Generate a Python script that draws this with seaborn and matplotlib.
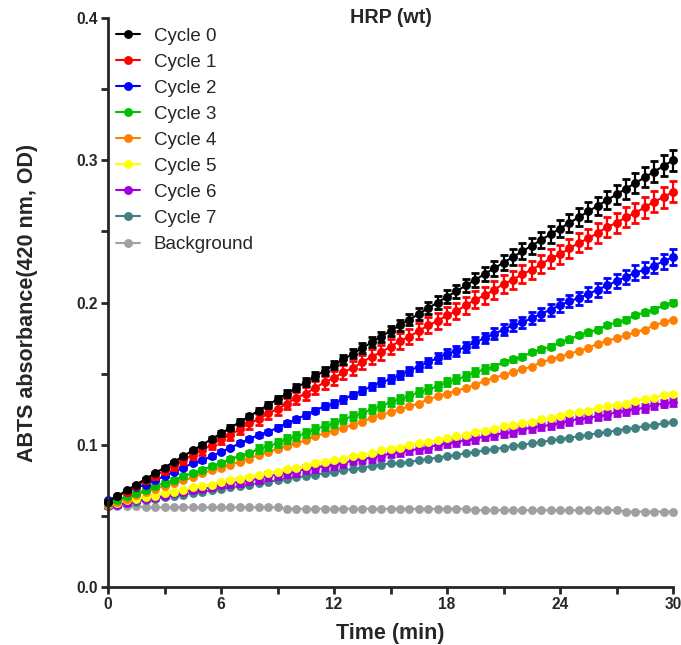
import matplotlib
matplotlib.use("Agg")
import matplotlib.pyplot as plt
import seaborn as sns
import numpy as np
import pandas as pd
from matplotlib.ticker import MultipleLocator

# ---------------- data ----------------
time_min = [i * 0.5 for i in range(61)]

series_names = ["Cycle 0", "Cycle 1", "Cycle 2", "Cycle 3", "Cycle 4",
                "Cycle 5", "Cycle 6", "Cycle 7", "Background"]
series_colors = ["#000000", "#FF0000", "#0000FF", "#00C000", "#FF8000",
                 "#FFFF00", "#A000E0", "#408080", "#A0A0A4"]

cycle0 = [0.060, 0.064, 0.068, 0.072, 0.076, 0.080, 0.084, 0.088, 0.092, 0.096,
          0.100, 0.104, 0.108, 0.112, 0.116, 0.120, 0.124, 0.128, 0.132, 0.136,
          0.140, 0.144, 0.148, 0.152, 0.156, 0.160, 0.164, 0.168, 0.172, 0.176,
          0.180, 0.184, 0.188, 0.192, 0.196, 0.200, 0.204, 0.208, 0.212, 0.216,
          0.220, 0.224, 0.228, 0.232, 0.236, 0.240, 0.244, 0.248, 0.252, 0.256,
          0.260, 0.264, 0.268, 0.272, 0.276, 0.280, 0.284, 0.288, 0.292, 0.296,
          0.300]
cycle1 = [0.060, 0.064, 0.067, 0.071, 0.075, 0.078, 0.082, 0.085, 0.089, 0.093,
          0.096, 0.100, 0.104, 0.107, 0.111, 0.115, 0.118, 0.122, 0.125, 0.129,
          0.133, 0.136, 0.140, 0.144, 0.147, 0.151, 0.154, 0.158, 0.162, 0.165,
          0.169, 0.173, 0.176, 0.180, 0.184, 0.187, 0.191, 0.194, 0.198, 0.202,
          0.205, 0.209, 0.213, 0.216, 0.220, 0.223, 0.227, 0.231, 0.234, 0.238,
          0.242, 0.245, 0.249, 0.253, 0.256, 0.260, 0.263, 0.267, 0.271, 0.274,
          0.278]
cycle2 = [0.061, 0.064, 0.067, 0.070, 0.072, 0.075, 0.078, 0.081, 0.084, 0.087,
          0.089, 0.092, 0.095, 0.098, 0.101, 0.104, 0.107, 0.109, 0.112, 0.115,
          0.118, 0.121, 0.124, 0.127, 0.129, 0.132, 0.135, 0.138, 0.141, 0.144,
          0.146, 0.149, 0.152, 0.155, 0.158, 0.161, 0.164, 0.166, 0.169, 0.172,
          0.175, 0.178, 0.181, 0.184, 0.186, 0.189, 0.192, 0.195, 0.198, 0.201,
          0.203, 0.206, 0.209, 0.212, 0.215, 0.218, 0.221, 0.223, 0.226, 0.229,
          0.232]
cycle3 = [0.059, 0.061, 0.064, 0.066, 0.068, 0.071, 0.073, 0.075, 0.078, 0.080,
          0.082, 0.085, 0.087, 0.090, 0.092, 0.094, 0.097, 0.099, 0.101, 0.104,
          0.106, 0.108, 0.111, 0.113, 0.115, 0.118, 0.120, 0.122, 0.125, 0.127,
          0.130, 0.132, 0.134, 0.137, 0.139, 0.141, 0.144, 0.146, 0.148, 0.151,
          0.153, 0.155, 0.158, 0.160, 0.162, 0.165, 0.167, 0.169, 0.172, 0.174,
          0.177, 0.179, 0.181, 0.184, 0.186, 0.188, 0.191, 0.193, 0.195, 0.198,
          0.200]
cycle4 = [0.058, 0.060, 0.062, 0.065, 0.067, 0.069, 0.071, 0.073, 0.075, 0.077,
          0.080, 0.082, 0.084, 0.086, 0.088, 0.090, 0.093, 0.095, 0.097, 0.099,
          0.101, 0.103, 0.106, 0.108, 0.110, 0.112, 0.114, 0.116, 0.119, 0.121,
          0.123, 0.125, 0.127, 0.129, 0.132, 0.134, 0.136, 0.138, 0.140, 0.142,
          0.145, 0.147, 0.149, 0.151, 0.153, 0.155, 0.158, 0.160, 0.162, 0.164,
          0.166, 0.168, 0.171, 0.173, 0.175, 0.177, 0.179, 0.181, 0.184, 0.186,
          0.188]
cycle5 = [0.058, 0.059, 0.061, 0.062, 0.063, 0.064, 0.066, 0.067, 0.068, 0.070,
          0.071, 0.072, 0.074, 0.075, 0.076, 0.077, 0.079, 0.080, 0.081, 0.083,
          0.084, 0.085, 0.087, 0.088, 0.089, 0.090, 0.092, 0.093, 0.094, 0.096,
          0.097, 0.098, 0.100, 0.101, 0.102, 0.103, 0.105, 0.106, 0.107, 0.109,
          0.110, 0.111, 0.113, 0.114, 0.115, 0.116, 0.118, 0.119, 0.120, 0.122,
          0.123, 0.124, 0.126, 0.127, 0.128, 0.129, 0.131, 0.132, 0.133, 0.135,
          0.136]
cycle6 = [0.057, 0.058, 0.059, 0.061, 0.062, 0.063, 0.064, 0.066, 0.067, 0.068,
          0.069, 0.070, 0.072, 0.073, 0.074, 0.075, 0.076, 0.078, 0.079, 0.080,
          0.081, 0.083, 0.084, 0.085, 0.086, 0.087, 0.089, 0.090, 0.091, 0.092,
          0.094, 0.095, 0.096, 0.097, 0.098, 0.100, 0.101, 0.102, 0.103, 0.104,
          0.106, 0.107, 0.108, 0.109, 0.111, 0.112, 0.113, 0.114, 0.115, 0.117,
          0.118, 0.119, 0.120, 0.121, 0.123, 0.124, 0.125, 0.126, 0.128, 0.129,
          0.130]
cycle7 = [0.057, 0.058, 0.059, 0.060, 0.061, 0.062, 0.063, 0.064, 0.065, 0.066,
          0.067, 0.068, 0.069, 0.070, 0.071, 0.072, 0.073, 0.074, 0.075, 0.076,
          0.077, 0.078, 0.079, 0.080, 0.081, 0.082, 0.083, 0.084, 0.085, 0.086,
          0.087, 0.087, 0.088, 0.089, 0.090, 0.091, 0.092, 0.093, 0.094, 0.095,
          0.096, 0.097, 0.098, 0.099, 0.100, 0.101, 0.102, 0.103, 0.104, 0.105,
          0.106, 0.107, 0.108, 0.109, 0.110, 0.111, 0.112, 0.113, 0.114, 0.115,
          0.116]
background = [0.058, 0.057, 0.057, 0.057, 0.056, 0.056, 0.056, 0.056, 0.056, 0.056,
              0.056, 0.056, 0.056, 0.056, 0.056, 0.056, 0.056, 0.056, 0.056, 0.055,
              0.055, 0.055, 0.055, 0.055, 0.055, 0.055, 0.055, 0.055, 0.055, 0.055,
              0.055, 0.055, 0.055, 0.055, 0.055, 0.055, 0.055, 0.055, 0.055, 0.054,
              0.054, 0.054, 0.054, 0.054, 0.054, 0.054, 0.054, 0.054, 0.054, 0.054,
              0.054, 0.054, 0.054, 0.054, 0.054, 0.053, 0.053, 0.053, 0.053, 0.053,
              0.053]

err0 = [0.0000, 0.0001, 0.0003, 0.0004, 0.0005, 0.0006, 0.0008, 0.0009, 0.0010, 0.0011,
        0.0013, 0.0014, 0.0015, 0.0016, 0.0018, 0.0019, 0.0020, 0.0021, 0.0023, 0.0024,
        0.0025, 0.0026, 0.0028, 0.0029, 0.0030, 0.0031, 0.0033, 0.0034, 0.0035, 0.0036,
        0.0038, 0.0039, 0.0040, 0.0041, 0.0043, 0.0044, 0.0045, 0.0046, 0.0048, 0.0049,
        0.0050, 0.0051, 0.0053, 0.0054, 0.0055, 0.0056, 0.0058, 0.0059, 0.0060, 0.0061,
        0.0063, 0.0064, 0.0065, 0.0066, 0.0068, 0.0069, 0.0070, 0.0071, 0.0073, 0.0074,
        0.0075]
err1 = [0.0000, 0.0010, 0.0014, 0.0017, 0.0019, 0.0022, 0.0024, 0.0026, 0.0027, 0.0029,
        0.0031, 0.0032, 0.0034, 0.0035, 0.0036, 0.0038, 0.0039, 0.0040, 0.0041, 0.0042,
        0.0043, 0.0044, 0.0045, 0.0046, 0.0047, 0.0048, 0.0049, 0.0050, 0.0051, 0.0052,
        0.0053, 0.0054, 0.0055, 0.0056, 0.0056, 0.0057, 0.0058, 0.0059, 0.0060, 0.0060,
        0.0061, 0.0062, 0.0063, 0.0063, 0.0064, 0.0065, 0.0066, 0.0066, 0.0067, 0.0068,
        0.0068, 0.0069, 0.0070, 0.0070, 0.0071, 0.0072, 0.0072, 0.0073, 0.0074, 0.0074,
        0.0075]
err2 = [0.0000, 0.0001, 0.0002, 0.0003, 0.0004, 0.0005, 0.0006, 0.0006, 0.0007, 0.0008,
        0.0009, 0.0010, 0.0011, 0.0012, 0.0013, 0.0014, 0.0015, 0.0016, 0.0017, 0.0017,
        0.0018, 0.0019, 0.0020, 0.0021, 0.0022, 0.0023, 0.0024, 0.0025, 0.0026, 0.0027,
        0.0028, 0.0028, 0.0029, 0.0030, 0.0031, 0.0032, 0.0033, 0.0034, 0.0035, 0.0036,
        0.0037, 0.0038, 0.0039, 0.0039, 0.0040, 0.0041, 0.0042, 0.0043, 0.0044, 0.0045,
        0.0046, 0.0047, 0.0048, 0.0049, 0.0050, 0.0050, 0.0051, 0.0052, 0.0053, 0.0054,
        0.0055]
err3 = [0.0015] * 16 + [0.0028] * 25 + [0.0015] * 20
err6 = [0.0015] * 13 + [0.0028] * 48
err_none = [0.0] * 61

series_values = [cycle0, cycle1, cycle2, cycle3, cycle4, cycle5, cycle6, cycle7, background]
series_errors = [err0, err1, err2, err3, err_none, err_none, err6, err_none, err_none]

# ---------------- style ----------------
sns.set_style("ticks")
plt.rcParams["font.family"] = ["Liberation Sans", "DejaVu Sans"]
plt.rcParams["axes.linewidth"] = 2.0

fig = plt.figure(figsize=(6.81, 6.45), dpi=100)
ax = fig.add_axes([0.1586, 0.0899, 0.8297, 0.8822])

# draw from last to first so Cycle 0 ends on top
for name, color, vals, errs in reversed(list(zip(series_names, series_colors,
                                                series_values, series_errors))):
    df = pd.DataFrame({"time": time_min, "value": vals})
    sns.lineplot(data=df, x="time", y="value", ax=ax, color=color, marker="o",
                 markersize=6.4, markeredgewidth=0, linewidth=1.5,
                 label=name, clip_on=False, estimator=None)
    if max(errs) > 0:
        ax.errorbar(time_min, vals, yerr=errs, fmt="none", ecolor=color,
                    elinewidth=1.6, capsize=3.2, capthick=2.0, clip_on=False)

ax.set_xlim(0, 30)
ax.set_ylim(0, 0.4)
ax.xaxis.set_major_locator(MultipleLocator(6))
ax.xaxis.set_minor_locator(MultipleLocator(3))
ax.yaxis.set_major_locator(MultipleLocator(0.1))
ax.yaxis.set_minor_locator(MultipleLocator(0.05))
ax.yaxis.set_major_formatter(matplotlib.ticker.FormatStrFormatter("%.1f"))
ax.tick_params(axis="both", which="major", length=5, width=2, direction="out",
               labelsize=11.2, pad=2)
ax.tick_params(axis="both", which="minor", length=5, width=2, direction="out")
for lab in ax.get_xticklabels() + ax.get_yticklabels():
    lab.set_fontweight("bold")

sns.despine(ax=ax)

ax.set_xlabel("Time (min)", fontsize=15.5, fontweight="bold", labelpad=8)
ax.set_ylabel("ABTS absorbance(420 nm, OD)", fontsize=15.5, fontweight="bold", labelpad=28)
ax.text(0.5, 1.0, "HRP (wt)", transform=ax.transAxes, ha="center", va="center",
        fontsize=14.2, fontweight="bold")

h, l = ax.get_legend_handles_labels()
order = [l.index(n) for n in series_names]
leg = ax.legend([h[i] for i in order], [l[i] for i in order], loc="upper left",
                bbox_to_anchor=(-0.009, 1.006), frameon=False, fontsize=13.5,
                handlelength=1.3, handletextpad=0.7, labelspacing=0.475,
                borderaxespad=0.3)

fig.savefig("out.png", dpi=100)
